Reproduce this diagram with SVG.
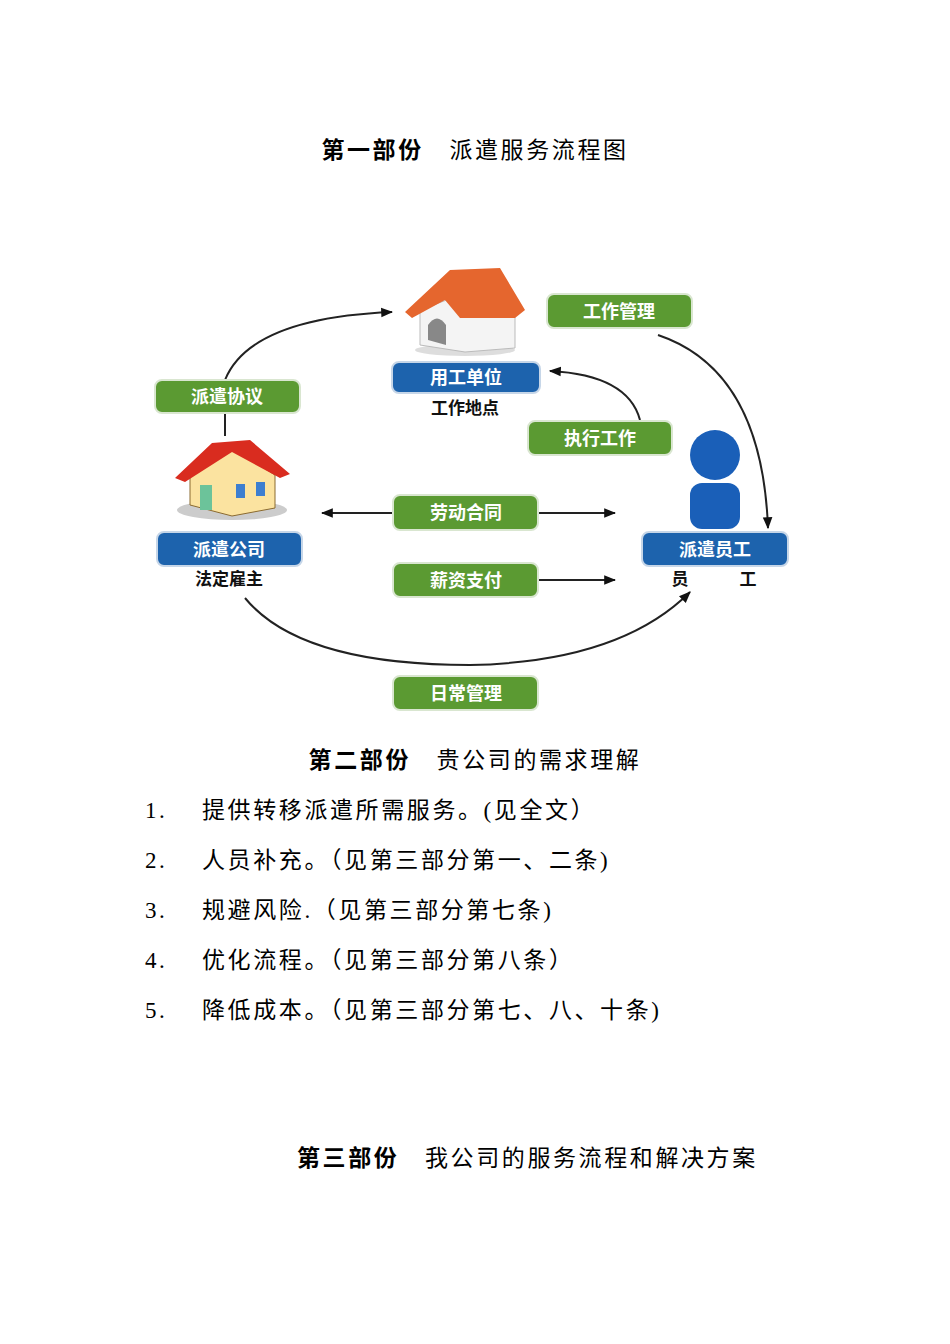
<svg xmlns="http://www.w3.org/2000/svg" width="950" height="1344" viewBox="0 0 950 1344">
<style>
.t{font-family:"Liberation Serif","Noto Sans CJK SC",serif;font-size:23px;fill:#000;letter-spacing:2.6px}
.b{font-weight:bold}
.g{fill:#5b9a32;stroke:#d9e6d0;stroke-width:2}
.bl{fill:#1d63ad;stroke:#c6d6e8;stroke-width:2}
.lt{font-family:"Noto Sans CJK SC",sans-serif;font-weight:bold;font-size:18px;fill:#fff;text-anchor:middle}
.dk{font-family:"Noto Sans CJK SC",sans-serif;font-weight:bold;font-size:17px;fill:#111;text-anchor:middle}
.c{fill:none;stroke:#222;stroke-width:2}
</style>
<defs>
<marker id="a" viewBox="0 0 10 10" refX="9" refY="5" markerWidth="6" markerHeight="6" orient="auto-start-reverse"><path d="M0,1 L10,5 L0,9 Z" fill="#111"/></marker>
</defs>
<rect width="950" height="1344" fill="#fff"/>
<text class="t" x="475" y="158" text-anchor="middle"><tspan class="b">第一部份</tspan>　派遣服务流程图</text>

<g id="connectors">
<path class="c" d="M225,380 Q250,318 392,312" marker-end="url(#a)"/>
<path class="c" d="M225,413 L225,436"/>
<path class="c" d="M658,335 Q762,370 768,528" marker-end="url(#a)"/>
<path class="c" d="M640,420 Q628,375 550,371" marker-end="url(#a)"/>
<path class="c" d="M393,513 L322,513" marker-end="url(#a)"/>
<path class="c" d="M538,513 L615,513" marker-end="url(#a)"/>
<path class="c" d="M538,580 L615,580" marker-end="url(#a)"/>
<path class="c" d="M245,598 Q300,665 470,665 Q620,662 690,592" marker-end="url(#a)"/>
</g>

<g id="house-top">
<ellipse cx="465" cy="350" rx="50" ry="6" fill="#ddd"/>
<polygon points="420,310 460,295 515,300 515,348 465,352 420,345" fill="#f4f4f4" stroke="#bbb"/>
<path d="M428,340 L428,325 Q437,312 446,325 L446,345 Z" fill="#888"/>
<polygon points="405,312 450,270 500,268 525,310 515,318 460,318 445,300 412,318" fill="#e5662e"/>
</g>
<g id="yonggong">
<rect class="bl" x="392" y="362" width="148" height="31" rx="7"/>
<text class="lt" x="466" y="384">用工单位</text>
<text class="dk" x="465" y="414">工作地点</text>
</g>
<g id="gongzuoguanli"><rect class="g" x="547" y="294" width="145" height="34" rx="7"/><text class="lt" x="619" y="318">工作管理</text></g>
<g id="paiqianxieyi"><rect class="g" x="155" y="380" width="145" height="33" rx="7"/><text class="lt" x="227" y="403">派遣协议</text></g>
<g id="house-left">
<ellipse cx="232" cy="510" rx="55" ry="10" fill="#ccc"/>
<polygon points="190,475 232,448 275,475 275,508 232,516 190,505" fill="#fbe3a0" stroke="#8a6a30"/>
<rect x="200" y="485" width="12" height="25" fill="#6cc39a"/>
<rect x="236" y="484" width="9" height="14" fill="#3c7ed0"/>
<rect x="256" y="482" width="9" height="14" fill="#3c7ed0"/>
<polygon points="175,478 212,443 250,440 290,474 280,478 232,452 185,482" fill="#d92c1f"/>
</g>
<g id="paiqiangongsi">
<rect class="bl" x="157" y="532" width="145" height="34" rx="7"/>
<text class="lt" x="229" y="556">派遣公司</text>
<text class="dk" x="229" y="585">法定雇主</text>
</g>
<g id="zhixinggongzuo"><rect class="g" x="528" y="421" width="144" height="34" rx="7"/><text class="lt" x="600" y="445">执行工作</text></g>
<g id="person">
<circle cx="715" cy="455" r="25" fill="#1a5fb8"/>
<rect x="690" y="483" width="50" height="46" rx="12" fill="#1a5fb8"/>
</g>
<g id="paiqianyuangong">
<rect class="bl" x="642" y="532" width="146" height="34" rx="7"/>
<text class="lt" x="715" y="556">派遣员工</text>
<text class="dk" x="680" y="585">员</text>
<text class="dk" x="748" y="585">工</text>
</g>
<g id="laodonghetong"><rect class="g" x="393" y="495" width="145" height="35" rx="7"/><text class="lt" x="466" y="519">劳动合同</text></g>
<g id="xinzizhifu"><rect class="g" x="393" y="563" width="145" height="34" rx="7"/><text class="lt" x="466" y="587">薪资支付</text></g>
<g id="richangguanli"><rect class="g" x="393" y="676" width="145" height="34" rx="7"/><text class="lt" x="466" y="700">日常管理</text></g>

<text class="t" x="475" y="768" text-anchor="middle"><tspan class="b">第二部份</tspan>　贵公司的需求理解</text>
<text class="t" x="145" y="818">1.</text><text class="t" x="202" y="818">提供转移派遣所需服务。(见全文）</text>
<text class="t" x="145" y="868">2.</text><text class="t" x="202" y="868">人员补充。（见第三部分第一、二条)</text>
<text class="t" x="145" y="918">3.</text><text class="t" x="202" y="918">规避风险.（见第三部分第七条)</text>
<text class="t" x="145" y="968">4.</text><text class="t" x="202" y="968">优化流程。（见第三部分第八条）</text>
<text class="t" x="145" y="1018">5.</text><text class="t" x="202" y="1018">降低成本。（见第三部分第七、八、十条)</text>
<text class="t" x="297" y="1166"><tspan class="b">第三部份</tspan>　我公司的服务流程和解决方案</text>
</svg>
